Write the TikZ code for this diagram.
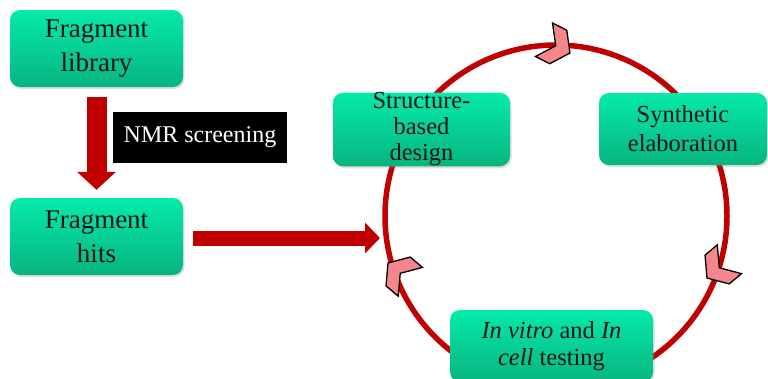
\documentclass[tikz,border=0pt]{standalone}
\usepackage{fontspec}
\setmainfont{Liberation Serif}
\usetikzlibrary{arrows.meta,shadows}
\definecolor{gtop}{RGB}{5,234,170}
\definecolor{gbot}{RGB}{8,180,128}
\definecolor{dred}{RGB}{192,0,0}
\definecolor{chev}{RGB}{245,135,140}
\definecolor{txt}{RGB}{20,20,20}
\tikzset{
 box/.style={rounded corners=10pt, top color=gtop, bottom color=gbot, draw=none,
   drop shadow={opacity=0.25,shadow xshift=1.5pt,shadow yshift=-2pt},
   align=center, inner sep=0pt, text=txt},
 bigtxt/.style={font=\fontsize{27}{34}\selectfont},
 cyctxt/.style={font=\fontsize{24.5}{26}\selectfont},
 downarrow/.style={draw=dred, line width=20pt, -{Triangle[length=18pt,width=38pt]}},
 rightarrow/.style={draw=dred, line width=15pt, -{Triangle[length=15pt,width=30pt]}},
 ring/.style={draw=dred, line width=5.5pt},
 chevron/.style={fill=chev, draw=black, line width=1.3pt, line join=miter},
}
\newcommand\chevronat[3]{%
 \draw[chevron, shift={(#1,#2)}, rotate=#3] (0,0) -- (-13.2,18.8) -- (-29.2,18.8) -- (-16,0) -- (-29.2,-18.8) -- (-13.2,-18.8) -- cycle;}
\begin{document}
\begin{tikzpicture}[x=1pt,y=-1pt]
\useasboundingbox (0,0) rectangle (768,378);
% cycle ring
\draw[ring] (556,216) circle[radius=171];
% left boxes
\node[box,bigtxt,minimum width=173pt,minimum height=77pt] (lib) at (96.5,48.5) {Fragment\\library};
\node[box,bigtxt,minimum width=173pt,minimum height=77pt] (hits) at (96.5,236.5) {Fragment\\hits};
\node[fill=black,text=white,font=\fontsize{24}{28}\selectfont,minimum width=174pt,minimum height=51pt,inner sep=0pt] (nmr) at (200,137.5) {NMR screening};
% cycle boxes
\node[box,cyctxt,minimum width=177pt,minimum height=73pt] (sbd) at (421.5,129.5) {Structure-\\based\\design};
\node[box,cyctxt,minimum width=168pt,minimum height=72pt,font=\fontsize{24.5}{29}\selectfont] (syn) at (683,129) {Synthetic\\elaboration};
\node[box,cyctxt,minimum width=203pt,minimum height=72pt,font=\fontsize{24.5}{27}\selectfont] (vit) at (551.5,346) {\textit{In vitro} and \textit{In}\\\textit{cell} testing};
% arrows
\coordinate (cin) at (380,238);
\draw[downarrow,shorten <=10pt,shorten >=8pt] (lib.south) -- (hits.north);
\draw[rightarrow,shorten <=10pt] (hits.east |- cin) -- (cin);
% chevrons
\chevronat{570}{53}{-27}
\chevronat{707}{278}{-140}
\chevronat{388}{263}{140}
\end{tikzpicture}
\end{document}
